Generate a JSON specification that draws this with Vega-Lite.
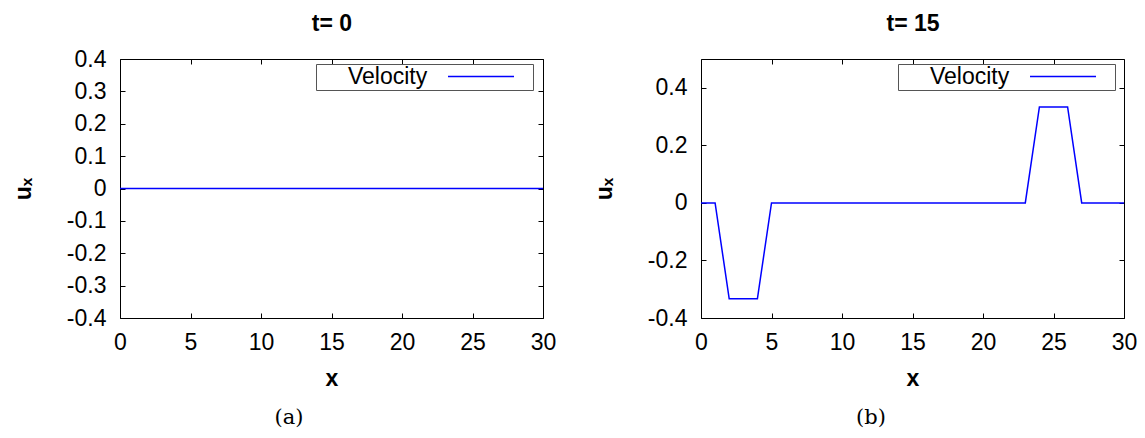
{
  "$schema": "https://vega.github.io/schema/vega-lite/v6.json",
  "autosize": {"type": "none"},
  "padding": {"left": 120, "top": 59, "right": 1025, "bottom": 379},
  "background": "white",
  "bounds": "flush",
  "spacing": 158,
  "datasets": {
    "a": [
      {"x": 0, "ux": 0}, {"x": 1, "ux": 0}, {"x": 2, "ux": 0}, {"x": 3, "ux": 0}, {"x": 4, "ux": 0},
      {"x": 5, "ux": 0}, {"x": 6, "ux": 0}, {"x": 7, "ux": 0}, {"x": 8, "ux": 0}, {"x": 9, "ux": 0},
      {"x": 10, "ux": 0}, {"x": 11, "ux": 0}, {"x": 12, "ux": 0}, {"x": 13, "ux": 0}, {"x": 14, "ux": 0},
      {"x": 15, "ux": 0}, {"x": 16, "ux": 0}, {"x": 17, "ux": 0}, {"x": 18, "ux": 0}, {"x": 19, "ux": 0},
      {"x": 20, "ux": 0}, {"x": 21, "ux": 0}, {"x": 22, "ux": 0}, {"x": 23, "ux": 0}, {"x": 24, "ux": 0},
      {"x": 25, "ux": 0}, {"x": 26, "ux": 0}, {"x": 27, "ux": 0}, {"x": 28, "ux": 0}, {"x": 29, "ux": 0},
      {"x": 30, "ux": 0}
    ],
    "b": [
      {"x": 0, "ux": 0}, {"x": 1, "ux": 0}, {"x": 2, "ux": -0.3333}, {"x": 3, "ux": -0.3333}, {"x": 4, "ux": -0.3333},
      {"x": 5, "ux": 0}, {"x": 6, "ux": 0}, {"x": 7, "ux": 0}, {"x": 8, "ux": 0}, {"x": 9, "ux": 0},
      {"x": 10, "ux": 0}, {"x": 11, "ux": 0}, {"x": 12, "ux": 0}, {"x": 13, "ux": 0}, {"x": 14, "ux": 0},
      {"x": 15, "ux": 0}, {"x": 16, "ux": 0}, {"x": 17, "ux": 0}, {"x": 18, "ux": 0}, {"x": 19, "ux": 0},
      {"x": 20, "ux": 0}, {"x": 21, "ux": 0}, {"x": 22, "ux": 0}, {"x": 23, "ux": 0}, {"x": 24, "ux": 0.3333},
      {"x": 25, "ux": 0.3333}, {"x": 26, "ux": 0.3333}, {"x": 27, "ux": 0}, {"x": 28, "ux": 0}, {"x": 29, "ux": 0},
      {"x": 30, "ux": 0}
    ]
  },
  "hconcat": [
    {
      "width": 423,
      "height": 259,
      "layer": [
        {
          "data": {"name": "a"},
          "mark": {"type": "line", "strokeWidth": 1.5},
          "encoding": {
            "x": {"field": "x", "type": "quantitative", "scale": {"domain": [0, 30], "nice": false},
              "axis": {"orient": "bottom", "title": "x", "labelPadding": 18, "values": [0, 5, 10, 15, 20, 25, 30], "titleX": 211.5, "titleY": 60, "titleBaseline": "middle"}},
            "y": {"field": "ux", "type": "quantitative", "scale": {"domain": [-0.4, 0.4], "nice": false, "zero": false},
              "axis": {"orient": "left", "title": "uₓ", "labelPadding": 19, "values": [-0.4, -0.3, -0.2, -0.1, 0, 0.1, 0.2, 0.3, 0.4], "format": ".1~f", "labelExpr": "replace(datum.label, '−', '-')", "titleX": -97, "titleY": 129.5, "titleBaseline": "middle"}},
            "color": {"datum": "Velocity", "scale": {"range": ["#0000ff"]},
              "legend": {"legendX": 196, "legendY": 5}}
          }
        },
        {
          "data": {"name": "a"},
          "mark": {"type": "line", "opacity": 0},
          "encoding": {
            "x": {"field": "x", "type": "quantitative",
              "axis": {"orient": "top", "labels": false, "title": "t= 0", "values": [0, 5, 10, 15, 20, 25, 30], "titleX": 211.5, "titleY": -36, "titleBaseline": "middle"}},
            "y": {"field": "ux", "type": "quantitative",
              "axis": {"orient": "right", "labels": false, "title": null, "values": [-0.4, -0.3, -0.2, -0.1, 0, 0.1, 0.2, 0.3, 0.4]}}
          }
        },
        {
          "data": {"name": "a"},
          "mark": {"type": "line", "opacity": 0},
          "encoding": {
            "x": {"field": "x", "type": "quantitative",
              "axis": {"orient": "bottom", "labels": false, "ticks": false, "title": "(a)", "titleFont": "DejaVu Serif", "titleFontWeight": "normal", "titleFontSize": 21, "titleX": 168.5, "titleY": 99, "titleBaseline": "middle"}},
            "y": {"field": "ux", "type": "quantitative", "axis": null}
          }
        }
      ],
      "resolve": {"axis": {"x": "independent", "y": "independent"}}
    },
    {
      "width": 423,
      "height": 259,
      "layer": [
        {
          "data": {"name": "b"},
          "mark": {"type": "line", "strokeWidth": 1.5},
          "encoding": {
            "x": {"field": "x", "type": "quantitative", "scale": {"domain": [0, 30], "nice": false},
              "axis": {"orient": "bottom", "title": "x", "labelPadding": 18, "values": [0, 5, 10, 15, 20, 25, 30], "titleX": 211.5, "titleY": 60, "titleBaseline": "middle"}},
            "y": {"field": "ux", "type": "quantitative", "scale": {"domain": [-0.4, 0.5], "nice": false, "zero": false},
              "axis": {"orient": "left", "title": "uₓ", "labelPadding": 19, "values": [-0.4, -0.2, 0, 0.2, 0.4], "format": ".1~f", "labelExpr": "replace(datum.label, '−', '-')", "titleX": -97, "titleY": 129.5, "titleBaseline": "middle"}},
            "color": {"datum": "Velocity", "scale": {"range": ["#0000ff"]},
              "legend": {"legendX": 197, "legendY": 5}}
          }
        },
        {
          "data": {"name": "b"},
          "mark": {"type": "line", "opacity": 0},
          "encoding": {
            "x": {"field": "x", "type": "quantitative",
              "axis": {"orient": "top", "labels": false, "title": "t= 15", "values": [0, 5, 10, 15, 20, 25, 30], "titleX": 211.5, "titleY": -36, "titleBaseline": "middle"}},
            "y": {"field": "ux", "type": "quantitative",
              "axis": {"orient": "right", "labels": false, "title": null, "values": [-0.4, -0.2, 0, 0.2, 0.4]}}
          }
        },
        {
          "data": {"name": "b"},
          "mark": {"type": "line", "opacity": 0},
          "encoding": {
            "x": {"field": "x", "type": "quantitative",
              "axis": {"orient": "bottom", "labels": false, "ticks": false, "title": "(b)", "titleFont": "DejaVu Serif", "titleFontWeight": "normal", "titleFontSize": 21, "titleX": 169.5, "titleY": 99, "titleBaseline": "middle"}},
            "y": {"field": "ux", "type": "quantitative", "axis": null}
          }
        }
      ],
      "resolve": {"axis": {"x": "independent", "y": "independent"}}
    }
  ],
  "resolve": {"scale": {"color": "independent"}, "legend": {"color": "independent"}},
  "config": {
    "font": "Liberation Sans",
    "view": {"stroke": "black", "strokeWidth": 1},
    "axis": {
      "grid": false,
      "domain": false,
      "tickColor": "black",
      "tickWidth": 1,
      "tickSize": -5,
      "labelFont": "Liberation Sans",
      "labelFontSize": 23,
      "labelColor": "black",
      "labelFlush": false,
      "labelOverlap": false,
      "titleFont": "Liberation Sans",
      "titleFontSize": 23,
      "titleFontWeight": "bold",
      "titleColor": "black"
    },
    "legend": {
      "orient": "none",
      "title": null,
      "symbolType": "M-10,0H10",
      "symbolSize": 449.4,
      "symbolStrokeWidth": 1.5,
      "symbolDash": [66, 146],
      "symbolDashOffset": 81,
      "symbolOffset": 94.5,
      "labelOffset": -86.5,
      "labelFont": "Liberation Sans",
      "labelFontSize": 23,
      "labelColor": "black",
      "labelLimit": 400,
      "strokeColor": "#555555",
      "fillColor": "white",
      "padding": 1
    }
  }
}
